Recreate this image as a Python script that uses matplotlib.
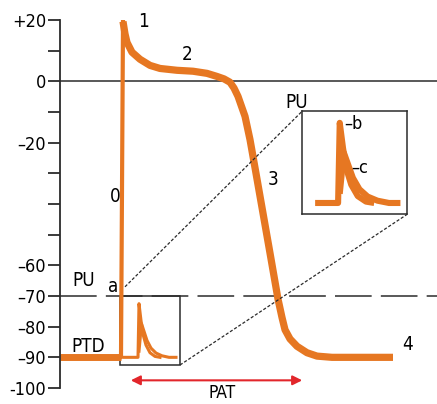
import matplotlib.pyplot as plt
from matplotlib.patches import Rectangle

# action potential trace (time in ms, membrane potential in mV)
apTime = [-62, -1, 1, 3, 5, 10, 18, 28, 38, 55, 71, 85, 95, 102, 108, 112, 116,
          123, 128, 134, 141, 148, 156, 160, 163, 168, 175, 185, 195, 210, 271]
apVolt = [-90, -90, 19.5, 15.5, 12.7, 9.5, 7.2, 5.2, 4.2, 3.6, 3.3, 2.6, 1.6, 0.8, -0.3, -2.2, -4.9,
          -11.4, -19, -30, -43, -56, -71, -77, -81, -84, -86.4, -88.5, -89.6, -90, -90]

# local response spikes (b and c)
bTime = [2, 16, 17, 19, 21, 24, 28, 33, 38]
bVolt = [-90, -90, -72.5, -78, -82.5, -86, -88.5, -89.7, -90]
cTime = [17, 19.5, 22, 25, 29, 34, 40, 47, 54]
cVolt = [-88, -79, -81.5, -84.5, -87, -88.6, -89.5, -90, -90]

yTicks = [20, 10, 0, -10, -20, -30, -40, -50, -60, -70, -80, -90, -100]
yLabels = ["+20", "", "0", "", "\u201320", "", "", "", "\u201360", "\u201370", "\u201380", "\u201390", "-100"]

restingLevel = 0
thresholdLevel = -70
zoomBox = (-2, 58, -92.5, -70)      # t0, t1, v0, v1
insetBox = (180, 285, -43.4, -9.8)
patRange = (6, 183, -97.5)

orange = "#e67722"
red = "#e2262b"
ink = "#2b2b2b"

plt.rcParams["font.family"] = ["DejaVu Sans"]
plt.rcParams["font.stretch"] = "condensed"

fig = plt.figure(figsize=(4.37, 4.04), dpi=100)
ax = fig.add_axes([60 / 437, 1 - 388 / 404, 377 / 437, 368 / 404])
ax.set_xlim(-62, 315)
ax.set_ylim(-100, 20)

for side in ["top", "right", "bottom"]:
    ax.spines[side].set_visible(False)
ax.spines["left"].set_color(ink)
ax.spines["left"].set_linewidth(1.3)
ax.set_xticks([])
ax.set_yticks(yTicks)
ax.set_yticklabels(yLabels)
ax.tick_params(axis="y", length=9, width=1.3, color=ink, labelsize=13, pad=1)

# reference lines
ax.axhline(restingLevel, color=ink, lw=1.1)
ax.axhline(thresholdLevel, color=ink, lw=1.1, dashes=(24, 6))

# main trace: thin upstroke, thick plateau / repolarisation
ax.plot(apTime[:3], apVolt[:3], color=orange, lw=3.0, solid_joinstyle="round")
ax.plot(apTime[2:], apVolt[2:], color=orange, lw=5.2, solid_capstyle="butt", solid_joinstyle="round")
ax.plot(apTime[:2], apVolt[:2], color=orange, lw=5.0, solid_capstyle="butt")

# small box with local responses
t0, t1, v0, v1 = zoomBox
ax.add_patch(Rectangle((t0, v0), t1 - t0, v1 - v0, fill=False, ec=ink, lw=1.1))
ax.plot(cTime, cVolt, color=orange, lw=2.2)
ax.plot(bTime, bVolt, color=orange, lw=2.2)

# magnified inset
i0, i1, w0, w1 = insetBox
ins = ax.inset_axes([i0, w0, i1 - i0, w1 - w0], transform=ax.transData)
ins.set_xlim(t0 - 4, t1)
ins.set_ylim(v0, v1)
ins.set_xticks([])
ins.set_yticks([])
for sp in ins.spines.values():
    sp.set_color(ink)
    sp.set_linewidth(1.1)
ins.plot(cTime, cVolt, color=orange, lw=4.4, solid_capstyle="butt")
ins.plot(bTime, bVolt, color=orange, lw=4.4, solid_capstyle="butt")
ins.text(0.40, 0.88, "\u2013b", transform=ins.transAxes, fontsize=13, va="center", ha="left")
ins.text(0.47, 0.45, "\u2013c", transform=ins.transAxes, fontsize=13, va="center", ha="left")

# connector lines
ax.plot([3, i0], [-67, w1], color=ink, lw=0.9, dashes=(2.5, 1.5))
ax.plot([t1, i1], [v0, w0], color=ink, lw=0.9, dashes=(2.5, 1.5))

# PAT arrow
p0, p1, pv = patRange
ax.annotate("", xy=(p0, pv), xytext=(p1, pv), annotation_clip=False,
            arrowprops=dict(arrowstyle="<|-|>", color=red, lw=1.5, mutation_scale=14))
ax.text((p0 + p1) / 2 + 6, -101.6, "PAT", fontsize=12.5, ha="center", va="center", clip_on=False)

# phase and region labels
labels = [
    (21, 19.6, "1"), (65, 8.8, "2"), (-7, -37.5, "0"), (151, -32, "3"),
    (286, -85.8, "4"), (175, -6.8, "PU"), (-38, -65, "PU"), (-9, -67, "a"),
    (-34, -86.4, "PTD"),
]
for x, y, s in labels:
    ax.text(x, y, s, fontsize=13.5, ha="center", va="center")

fig.savefig("out.png", dpi=100)
